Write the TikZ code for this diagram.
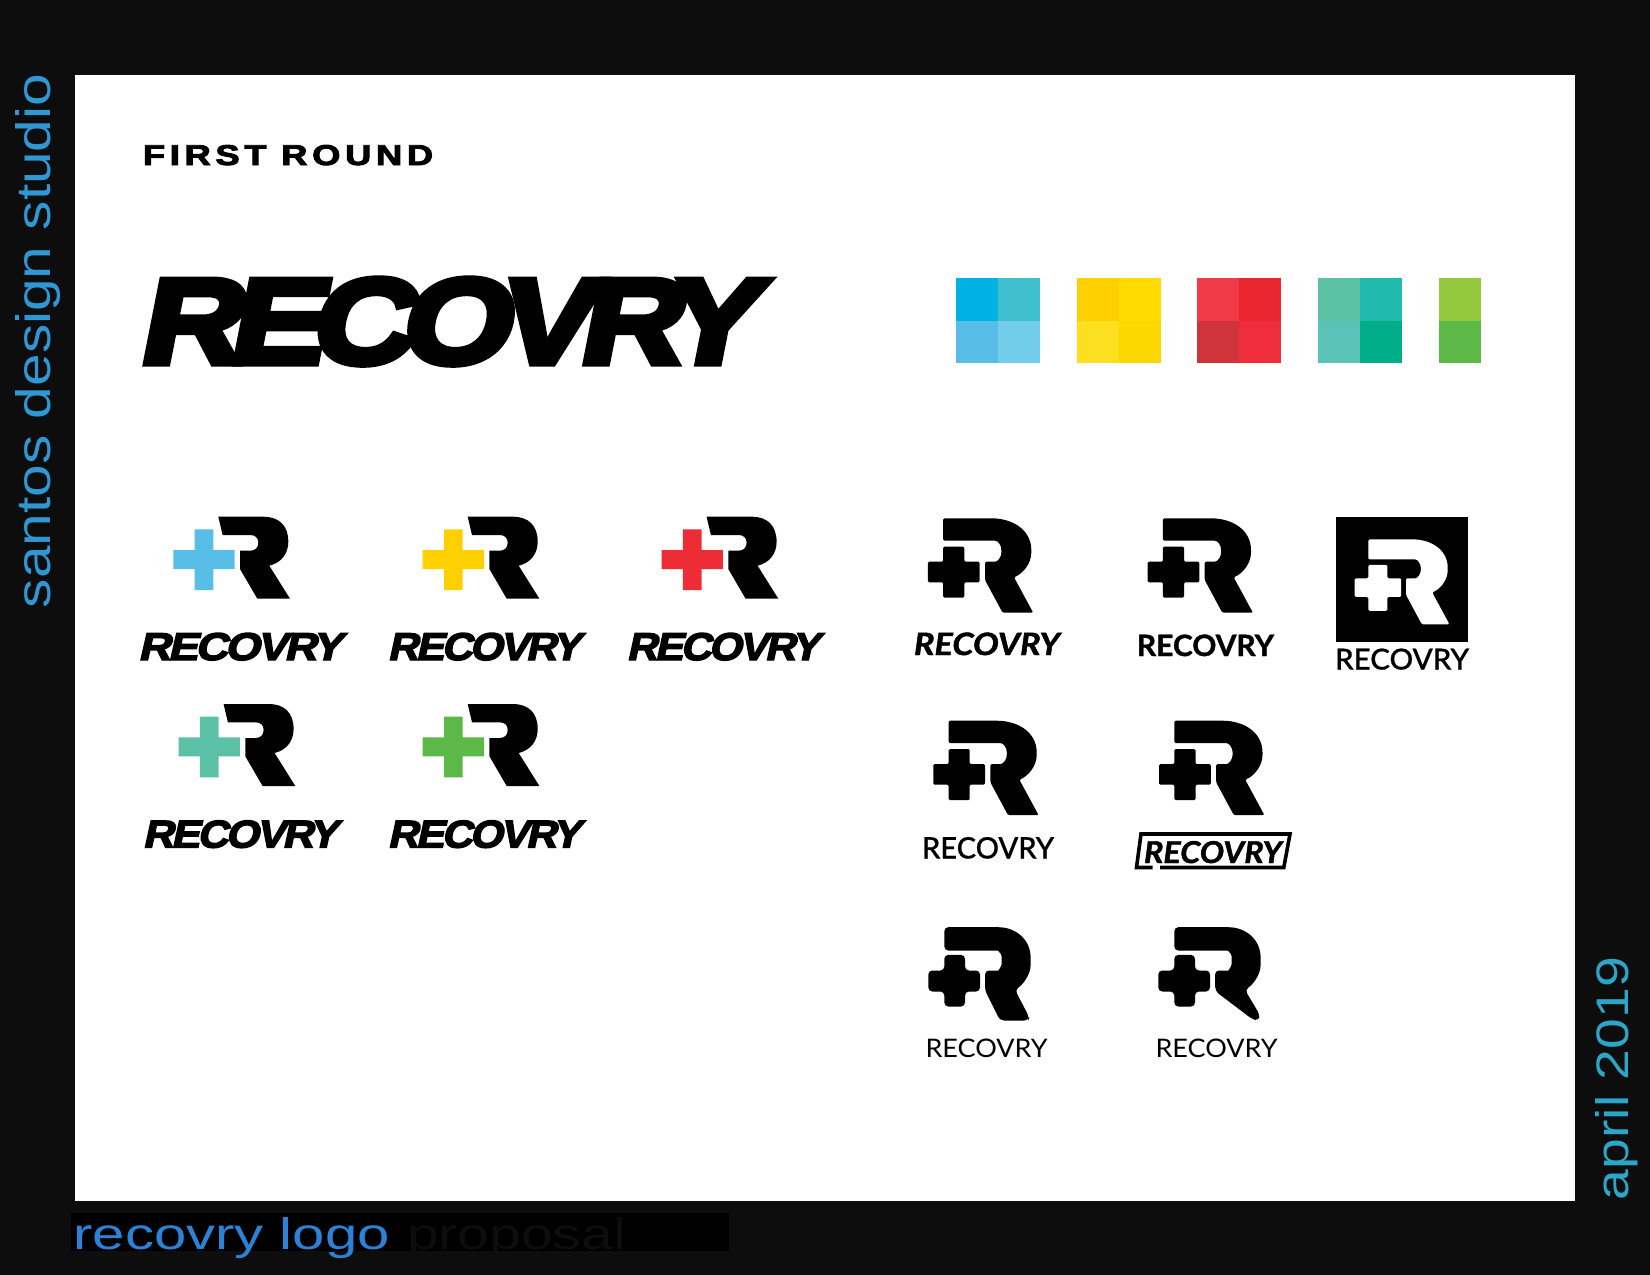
\documentclass[tikz,border=0pt]{standalone}
\usepackage{fontspec}
\usepackage{graphicx}
\setmainfont{Liberation Sans}
\newfontfamily\fWide[FakeSlant=0.22,FakeBold=3.6,FakeStretch=1.12,LetterSpace=-7]{Liberation Sans Bold}
\newfontfamily\fBig[FakeSlant=0.2,FakeBold=6,FakeStretch=1.2,LetterSpace=-11]{Liberation Sans Bold}
\newfontfamily\fTitle[FakeBold=3,LetterSpace=13]{Liberation Sans Bold}
\newfontfamily\fBlackIt[FakeBold=1.4]{Lato Bold Italic}
\newfontfamily\fBoldL[FakeBold=1.2]{Lato Bold}
\newfontfamily\fMedL[FakeBold=0.7]{Lato Medium}
\newfontfamily\fLightL{Lato Regular}
\newfontfamily\fThin{Liberation Sans}
\newcommand{\fitbox}[3]{\resizebox{#1pt}{#2pt}{#3}}
\definecolor{pagebg}{HTML}{0D0D0D}
\definecolor{sidea}{HTML}{2F97D3}
\definecolor{sideb}{HTML}{2CA6C6}
\definecolor{foot}{HTML}{2B82D6}
\definecolor{logoblue}{HTML}{58BEE8}
\definecolor{logoyellow}{HTML}{FFD000}
\definecolor{logored}{HTML}{ED2C35}
\definecolor{logoteal}{HTML}{5BC2A8}
\definecolor{logogreen}{HTML}{5CB947}
\tikzset{
  txt/.style={anchor=base west,inner sep=0pt,outer sep=0pt}
}
% type A: colour cross + sharp R
\newcommand{\logoA}[3]{\begin{scope}[shift={(#1,#2)}]
  \fill[#3] (-23.7,12.7) -- (-5,12.7) -- (-5,33.3) -- (16.3,33.3) -- (16.3,52.3) -- (-5,52.3) -- (-5,73.3) -- (-23.7,73.3) -- (-23.7,52.3) -- (-45,52.3) -- (-45,33.3) -- (-23.7,33.3) -- cycle;
  \fill[black] (0,0) -- (45,0) .. controls (61,0) and (70,9) .. (70,25) .. controls (70,37) and (63,46) .. (51,49) -- (71.7,82) -- (39,82) -- (21.7,52.3) -- (21.7,34) -- (31.7,34) .. controls (37,34) and (40,31) .. (40,26) .. controls (40,21) and (37,18.3) .. (31.7,18.3) -- (4.3,18.3) -- cycle;
\end{scope}}
% type B: black rounded-corner cross + R
\newcommand{\logoB}[5]{\begin{scope}[shift={(#1,#2)},scale=#3]
  \fill[#4,rounded corners=1.3pt] (0,28.4) -- (21.1,28.4) -- (21.1,43.4) -- (36.4,43.4) -- (36.4,64) -- (21.1,64) -- (21.1,79.4) -- (0,79.4) -- (0,64) -- (-15.3,64) -- (-15.3,43.4) -- (0,43.4) -- cycle;
  \fill[#5,rounded corners=1.3pt] (0,0) -- (46.7,0) .. controls (70,0) and (88.1,12) .. (88.1,33) .. controls (88.1,45) and (80,55) .. (70.8,59) -- (90,94.4) -- (59.4,94.4) -- (41.8,61.7) -- (41.8,43.4) -- (50.6,43.4) .. controls (55,43.4) and (58.2,38) .. (58.2,33) .. controls (58.2,27) and (55,22.4) .. (50.6,22.4) -- (0,22.4) -- cycle;
\end{scope}}
% type C: very rounded
\newcommand{\logoC}[3]{\begin{scope}[shift={(#1,#2)}]
  \fill[black,rounded corners=4pt] (0,27.7) -- (20.7,27.7) -- (20.7,43.3) -- (35.7,43.3) -- (35.7,64.3) -- (20.7,64.3) -- (20.7,79.3) -- (0,79.3) -- (0,64.3) -- (-16,64.3) -- (-16,43.3) -- (0,43.3) -- cycle;
  \fill[black,rounded corners=4pt] (0,0) -- (50,0) .. controls (72,0) and (86.3,13) .. (86.3,34) .. controls (86.3,47) and (79,57) .. (70.7,62.7) #3 -- (40.7,43.3) -- (50,43.3) .. controls (54,43.3) and (57.3,39) .. (57.3,33) .. controls (57.3,27) and (54,23.3) .. (49,23.3) -- (0,23.3) -- cycle;
\end{scope}}
\begin{document}
\begin{tikzpicture}[x=1pt,y=-1pt]
\useasboundingbox (0,0) rectangle (1650,1275);
\fill[pagebg] (0,0) rectangle (1650,1275);
\fill[white] (75,75) rectangle (1575,1200.5);
\fill[black] (70.5,1212.5) rectangle (729,1251);
% side and footer text
\node[txt,rotate=90,text=sidea] (side) at (50.5,608) {\fitbox{534}{35}{\fThin santos design studio}};
\node[txt,rotate=90,text=sideb] (date) at (1628,1200) {\fitbox{243}{33}{\fThin april 2019}};
\node[txt,text=foot] (foota) at (73.5,1249) {\fitbox{316}{32}{\fThin recovry logo}};
\node[txt,text=pagebg] (footb) at (407,1249) {\fitbox{219}{32}{\fThin proposal}};
% title and big wordmark
\node[txt] (title) at (143,165) {\fitbox{290}{20}{\fTitle FIRST ROUND}};
\node[txt] (big) at (137,363) {\fitbox{618}{84}{\fBig RECOVRY}};
% swatches
\foreach \x/\a/\b/\c/\d in {955.5/00B2E3/40C0CF/58BEE8/72CDEA,1076.5/FFCF00/FFDB00/FCE020/FDD800,1197/F03A47/EA2730/CE343A/F02D3A,1317.5/5BC2A6/20BBAD/5BC2B8/00AE8A}{
  \definecolor{ca}{HTML}{\a}\definecolor{cb}{HTML}{\b}\definecolor{cc}{HTML}{\c}\definecolor{cd}{HTML}{\d}
  \fill[ca] (\x,278) rectangle ++(42,42.5);
  \fill[cb] (\x+42,278) rectangle ++(42,42.5);
  \fill[cc] (\x,320.5) rectangle ++(42,42.5);
  \fill[cd] (\x+42,320.5) rectangle ++(42,42.5);
}
\definecolor{ca}{HTML}{95C93D}\definecolor{cb}{HTML}{5CB947}
\fill[ca] (1438.5,278) rectangle ++(42,42.5);
\fill[cb] (1438.5,320.5) rectangle ++(42,42.5);
% colour logos
\logoA{218.3}{516.7}{logoblue}
\logoA{467.7}{516.7}{logoyellow}
\logoA{706.6}{516.7}{logored}
\logoA{223.6}{704}{logoteal}
\logoA{467.7}{704}{logogreen}
\node[txt] (wa) at (138,660) {\fitbox{204}{27}{\fWide RECOVRY}};
\node[txt] (wb) at (387.5,660) {\fitbox{193}{27}{\fWide RECOVRY}};
\node[txt] (wc) at (626.5,660) {\fitbox{193}{27}{\fWide RECOVRY}};
\node[txt] (wd) at (142.5,847.5) {\fitbox{195}{27}{\fWide RECOVRY}};
\node[txt] (we) at (387.5,847.5) {\fitbox{193}{27}{\fWide RECOVRY}};
% black logos
\logoB{943.2}{518.3}{1}{black}{black}
\logoB{1162.9}{518.3}{1}{black}{black}
\fill[black] (1335.5,516.5) rectangle (1468.3,641.5);
\logoB{1368.4}{539.3}{0.9}{white}{white}
\logoB{948.6}{720.7}{1}{black}{black}
\logoB{1174.4}{720.7}{1}{black}{black}
\logoC{944.3}{927.2}{-- (85,90) -- (84,93.3) -- (55.7,93.3) -- (40.7,63.3)}
\logoC{1174.3}{927.2}{-- (85.7,88) -- (84,93.5) -- (78,92) -- (41,64)}
\node[txt] (ba) at (914,655) {\fitbox{146}{22.5}{\fBlackIt RECOVRY}};
\node[txt] (bb) at (1137,656) {\fitbox{137}{21.5}{\fBoldL RECOVRY}};
\node[txt] (bc) at (1335,669.5) {\fitbox{134}{21}{\fMedL RECOVRY}};
\node[txt] (bd) at (922,858.5) {\fitbox{132}{21.5}{\fMedL RECOVRY}};
\node[txt] (be) at (1144,863) {\fitbox{138}{22}{\fBlackIt RECOVRY}};
\draw[black,line width=3.6pt,miter limit=10] (1160,867.5) -- (1283.8,867.5) -- (1290,834) -- (1141,834) -- (1136.5,867.5) -- (1152.6,867.5);
\node[txt] (bf) at (925.5,1057) {\fitbox{122}{18.5}{\fLightL RECOVRY}};
\node[txt] (bg) at (1155.5,1057) {\fitbox{122}{18.5}{\fLightL RECOVRY}};
\end{tikzpicture}
\end{document}
